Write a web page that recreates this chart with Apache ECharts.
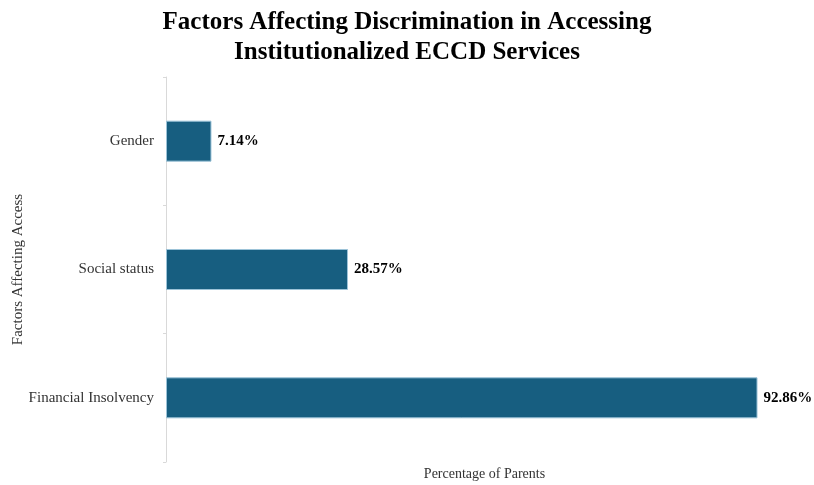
<!DOCTYPE html>
<html>
<head>
<meta charset="utf-8">
<script src="https://cdn.jsdelivr.net/npm/echarts@6/dist/echarts.min.js"></script>
<style>html,body{margin:0;padding:0;background:#fff}#chart{width:814px;height:485px}</style>
</head>
<body>
<div id="chart"></div>
<script>
// Factors reported by parents, top to bottom
const categories = ['Gender', 'Social status', 'Financial Insolvency'];
// Share of parents citing each factor (%)
const percentages = [7.14, 28.57, 92.86];

const serif = '"Liberation Serif", "Times New Roman", serif';
const chart = echarts.init(document.getElementById('chart'));
chart.setOption({
  animation: false,
  backgroundColor: '#ffffff',
  title: {
    text: 'Factors Affecting Discrimination in Accessing\nInstitutionalized ECCD Services',
    left: 'center',
    top: 3,
    textStyle: { fontFamily: serif, fontWeight: 'bold', fontSize: 25, lineHeight: 30, color: '#000' }
  },
  grid: { left: 166, right: 11, top: 77, bottom: 23, outerBoundsMode: 'none', containLabel: false },
  xAxis: {
    type: 'value',
    min: 0,
    max: 100,
    name: 'Percentage of Parents',
    nameLocation: 'middle',
    nameGap: 5,
    nameTextStyle: { fontFamily: serif, fontSize: 14, color: '#333' },
    axisLine: { show: false },
    axisTick: { show: false },
    axisLabel: { show: false },
    splitLine: { show: false }
  },
  yAxis: {
    type: 'category',
    data: categories,
    inverse: true,
    name: 'Factors Affecting Access',
    nameLocation: 'middle',
    nameGap: 140,
    nameRotate: 90,
    nameMoveOverlap: false,
    nameTextStyle: { fontFamily: serif, fontSize: 15, color: '#333' },
    axisLine: { show: true, lineStyle: { color: '#d9d9d9', width: 1 } },
    axisTick: { show: true, length: 3, lineStyle: { color: '#d9d9d9' } },
    axisLabel: { fontFamily: serif, fontSize: 15, color: '#333', margin: 12 }
  },
  series: [{
    type: 'bar',
    data: percentages,
    barWidth: 41,
    itemStyle: { color: '#175e80', borderColor: '#9cc3d8', borderWidth: 1 },
    label: {
      show: true,
      position: 'right',
      distance: 6,
      formatter: p => p.value.toFixed(2) + '%',
      fontFamily: serif,
      fontWeight: 'bold',
      fontSize: 15,
      color: '#000'
    }
  }]
});
</script>
</body>
</html>
